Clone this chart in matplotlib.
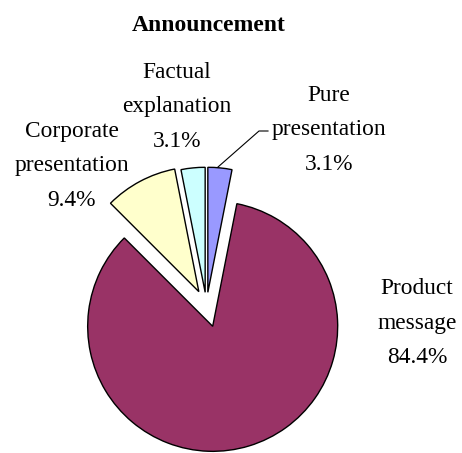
import matplotlib.pyplot as plt

# slices, clockwise from 12 o'clock
labels = ['Pure\npresentation', 'Product\nmessage', 'Corporate\npresentation', 'Factual\nexplanation']
shares = [3.1, 84.4, 9.4, 3.1]
colors = ['#9999FF', '#993366', '#FFFFCC', '#CCFFFF']
explode = [0.11, 0.17, 0.13, 0.11]

plt.rcParams['font.family'] = ['Liberation Serif', 'DejaVu Serif']

fig = plt.figure(figsize=(4.62, 4.53), dpi=100)
ax = fig.add_axes([0, 0, 1, 1])

# pixel layout of the reference: pie centre and radius
cx, cy, r = 206.5, 306.0, 125.0


def px(x, y):
    return (x - cx) / r, (cy - y) / r


ax.pie(shares, colors=colors, explode=explode, startangle=90, counterclock=False,
       radius=1.0, wedgeprops=dict(edgecolor='black', linewidth=1.0))

ax.set_xlim(-cx / r, (462 - cx) / r)
ax.set_ylim((cy - 453) / r, cy / r)
ax.set_aspect('equal')
ax.axis('off')

label_pos = [(329, 130), (417, 323), (72, 166), (177, 107)]
for lab, val, (x, y) in zip(labels, shares, label_pos):
    ax.text(*px(x, y), f'{lab}\n{val:.1f}%', ha='center', va='center',
            fontsize=16.8, linespacing=1.82)

# leader line for the small slice
ax.plot(*zip(px(268, 131), px(259, 131), px(218, 167)), color='black', lw=0.8)

ax.text(*px(209, 26), 'Announcement', ha='center', va='center',
        fontsize=17, fontweight='bold')

fig.savefig('out.png', dpi=100)
